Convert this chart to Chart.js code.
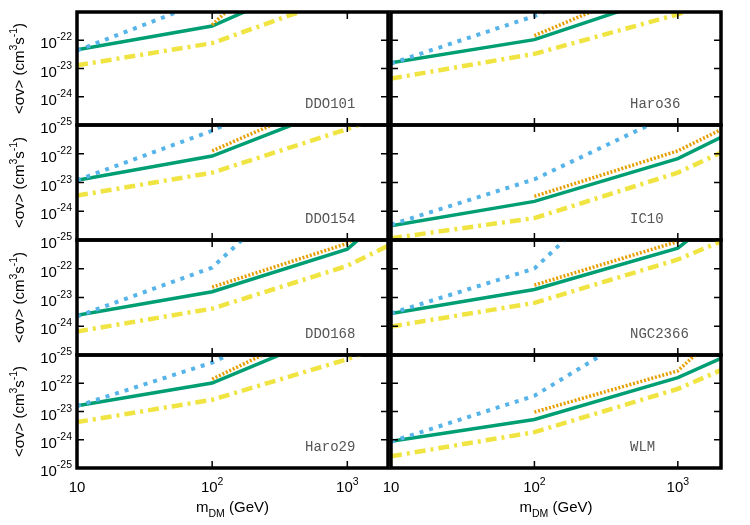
<!DOCTYPE html>
<html>
<head>
<meta charset="utf-8">
<script src="https://cdn.jsdelivr.net/npm/chart.js@4.4.1/dist/chart.umd.min.js"></script>
<style>
  body { margin: 0; background: #fff; }
  #wrap { position: relative; width: 750px; height: 525px; }
  #wrap canvas { position: absolute; left: 0; top: 0; }
</style>
</head>
<body>
<div id="wrap"></div>
<script>
// dark matter mass grid (GeV)
const masses = [10, 100, 1000, 2000];
const galaxies = ['DDO101', 'Haro36', 'DDO154', 'IC10', 'DDO168', 'NGC2366', 'Haro29', 'WLM'];

// <sigma v> upper limits (cm^3 s^-1), one row per galaxy, at the masses above
const blueDotted = [
  [4.3e-23, 3.0e-21, 1e-19, null],
  [1.5e-23, 7.2e-22, 1e-19, null],
  [1.2e-23, 6.3e-22, 1e-19, null],
  [3.4e-25, 1.29e-23, 3.0e-21, null],
  [2.2e-24, 1.1e-22, 2.5e-18, null],
  [2.8e-24, 1.02e-22, 5e-18, null],
  [1.55e-23, 5.4e-22, 1e-19, null],
  [8.5e-25, 3.6e-23, 4.3e-20, null]
];
const orangeDotted = [
  [null, 3.5e-22, 1.1e-17, 5e-17],
  [null, 1.45e-22, 2e-20, 8e-20],
  [null, 1.26e-22, 1.4e-20, 5e-20],
  [null, 3.3e-24, 1.26e-22, 6.9e-22],
  [null, 2.3e-23, 7.6e-22, 1e-20],
  [null, 2.7e-23, 8.9e-22, 1e-20],
  [null, 1.4e-22, 2.8e-20, 1e-19],
  [null, 9.5e-24, 2.75e-22, 7e-21]
];
const greenSolid = [
  [4.6e-23, 3.2e-22, 4e-20, 1.6e-19],
  [1.58e-23, 1.05e-22, 5.2e-21, 2e-20],
  [1.2e-23, 8.3e-23, 5.6e-21, 2e-20],
  [3.1e-25, 2.2e-24, 6.8e-23, 3.7e-22],
  [2.4e-24, 1.58e-23, 4.8e-22, 7.9e-21],
  [2.75e-24, 1.9e-23, 5.2e-22, 7.9e-21],
  [1.6e-23, 1.02e-22, 1e-20, 4e-20],
  [8.9e-25, 5.2e-24, 1.58e-22, 7.6e-22]
];
const yellowDashDot = [
  [1.29e-23, 7.9e-23, 4.1e-21, 1.3e-20],
  [4.4e-24, 3.3e-23, 8.3e-22, 3.2e-21],
  [3.5e-24, 2.2e-23, 7.2e-22, 2.5e-21],
  [1.15e-25, 5.8e-25, 2.2e-23, 1.1e-22],
  [6.6e-25, 4.1e-24, 1.26e-22, 6.3e-22],
  [9.8e-25, 6.5e-24, 2.1e-22, 8.9e-22],
  [4.2e-24, 2.6e-23, 7.1e-22, 2.5e-21],
  [2.6e-25, 1.86e-24, 6.3e-23, 2.9e-22]
];

const yTickExps = [-22, -23, -24, -25];
const xTickExps = [1, 2, 3];

// panel geometry (chart area edges in px)
const colLeft = [77, 391], colRight = [388, 721];
const rowTop = [12, 125, 240, 355], rowBottom = [125, 240, 355, 468];

const sans = '"Liberation Sans", Arial, sans-serif';

function pts(vals) {
  return masses.map((m, i) => ({ x: m, y: vals[i] }));
}

// draw text with a raised / lowered small part, returns width
function richText(ctx, parts, x, y, draw) {
  let w = 0;
  parts.forEach(p => {
    ctx.font = (p.small ? '10.5px ' : '15px ') + sans;
    const pw = ctx.measureText(p.t).width;
    if (draw) ctx.fillText(p.t, x + w, y + (p.dy || 0));
    w += pw;
  });
  return w;
}

const framePlugin = {
  id: 'frame',
  afterDraw(chart, args, opts) {
    const ctx = chart.ctx;
    const a = chart.chartArea;
    const xs = chart.scales.x, ys = chart.scales.y;
    ctx.save();
    ctx.strokeStyle = '#000';
    ctx.fillStyle = '#000';
    // inward tick marks
    ctx.lineWidth = 1.5;
    ctx.beginPath();
    [100, 1000].forEach(v => {
      const px = xs.getPixelForValue(v);
      ctx.moveTo(px, a.bottom); ctx.lineTo(px, a.bottom - 7);
      ctx.moveTo(px, a.top); ctx.lineTo(px, a.top + 7);
    });
    [1e-22, 1e-23, 1e-24].forEach(v => {
      const py = ys.getPixelForValue(v);
      ctx.moveTo(a.left, py); ctx.lineTo(a.left + 7, py);
      ctx.moveTo(a.right, py); ctx.lineTo(a.right - 7, py);
    });
    ctx.stroke();
    // frame
    ctx.lineWidth = 3.5;
    ctx.strokeRect(a.left, a.top, a.right - a.left, a.bottom - a.top);

    // galaxy name
    ctx.font = '14px "Liberation Mono", monospace';
    ctx.fillStyle = '#555';
    ctx.textAlign = 'left';
    ctx.textBaseline = 'alphabetic';
    ctx.fillText(opts.name, opts.col === 0 ? 305 : 630, a.bottom - 17);

    ctx.fillStyle = '#000';
    if (opts.col === 0) {
      // y tick labels
      yTickExps.forEach(e => {
        const py = ys.getPixelForValue(Math.pow(10, e));
        const parts = [{ t: '10' }, { t: String(e), small: true, dy: -8 }];
        const w = richText(ctx, parts, 0, 0, false);
        richText(ctx, parts, 72 - w, py + 8, true);
      });
      // y axis title
      const tparts = [
        { t: '<\u03c3v> (cm' }, { t: '3', small: true, dy: -7 },
        { t: 's' }, { t: '-1', small: true, dy: -7 }, { t: ')' }
      ];
      const tw = richText(ctx, tparts, 0, 0, false);
      ctx.save();
      ctx.translate(23.5, (a.top + a.bottom) / 2);
      ctx.rotate(-Math.PI / 2);
      richText(ctx, tparts, -tw / 2, 0, true);
      ctx.restore();
    }
    if (opts.row === 3) {
      // x tick labels
      xTickExps.forEach(e => {
        const px = xs.getPixelForValue(Math.pow(10, e));
        const parts = e === 1 ? [{ t: '10' }] : [{ t: '10' }, { t: String(e), small: true, dy: -7 }];
        const w = richText(ctx, parts, 0, 0, false);
        richText(ctx, parts, px - w / 2, 492, true);
      });
      // x axis title
      const xparts = [{ t: 'm' }, { t: 'DM', small: true, dy: 4.5 }, { t: ' (GeV)' }];
      const xw = richText(ctx, xparts, 0, 0, false);
      richText(ctx, xparts, (a.left + a.right) / 2 - xw / 2, 512, true);
    }
    ctx.restore();
  }
};

const wrap = document.getElementById('wrap');
galaxies.forEach((name, i) => {
  const col = i % 2, row = Math.floor(i / 2);
  const canvas = document.createElement('canvas');
  canvas.width = 750;
  canvas.height = 525;
  canvas.style.width = '750px';
  canvas.style.height = '525px';
  wrap.appendChild(canvas);

  new Chart(canvas, {
    type: 'line',
    data: {
      datasets: [
        {
          data: pts(blueDotted[i]),
          borderColor: '#56B4E9', borderWidth: 4, borderDash: [4, 6], borderCapStyle: 'butt'
        },
        {
          data: pts(orangeDotted[i]),
          borderColor: '#E69F00', borderWidth: 3.5, borderDash: [2, 1.8], borderCapStyle: 'butt'
        },
        {
          data: pts(greenSolid[i]),
          borderColor: '#009E73', borderWidth: 3.5
        },
        {
          data: pts(yellowDashDot[i]),
          borderColor: '#F0E442', borderWidth: 4.5, borderDash: [11, 5, 3, 5], borderCapStyle: 'butt'
        }
      ]
    },
    options: {
      responsive: false,
      animation: false,
      events: [],
      devicePixelRatio: 1,
      layout: {
        padding: {
          left: colLeft[col],
          right: 750 - colRight[col],
          top: rowTop[row],
          bottom: 525 - rowBottom[row]
        }
      },
      elements: { point: { radius: 0 }, line: { tension: 0, fill: false } },
      scales: {
        x: { type: 'logarithmic', min: 10, max: 2000, display: false },
        y: { type: 'logarithmic', min: 1e-25, max: 1e-21, display: false }
      },
      plugins: {
        legend: { display: false },
        tooltip: { enabled: false },
        frame: { name: name, col: col, row: row }
      }
    },
    plugins: [framePlugin]
  });
});
</script>
</body>
</html>
